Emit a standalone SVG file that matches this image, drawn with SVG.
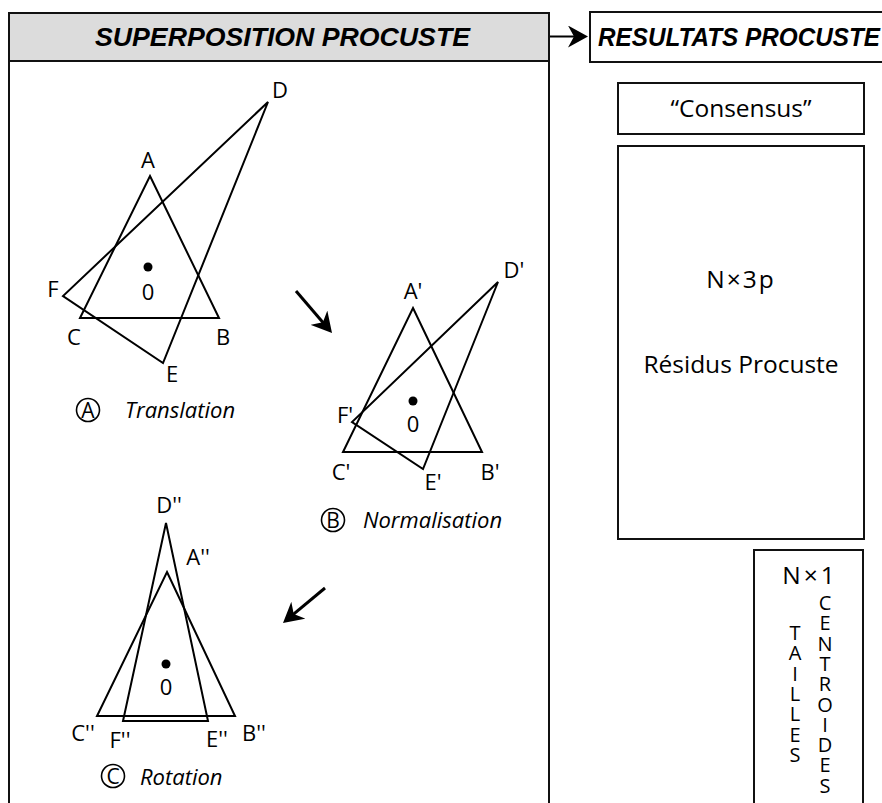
<svg xmlns="http://www.w3.org/2000/svg" width="882" height="803" viewBox="0 0 882 803">
<style>
.bd{fill:none;stroke:#111;stroke-width:2}
.tri{fill:none;stroke:#000;stroke-width:2;stroke-linejoin:miter}
.lbl{font-family:"Open Sans","Noto Sans",sans-serif;font-size:22px;fill:#000;text-anchor:middle}
.cap{font-family:"Open Sans","Noto Sans",sans-serif;font-size:22px;font-style:italic;fill:#000}
.cl{font-family:"Open Sans","Noto Sans",sans-serif;font-size:21px;fill:#000;text-anchor:middle}
.circ{fill:none;stroke:#000;stroke-width:1.6}
.hd{font-family:"Liberation Sans",Arial,sans-serif;font-size:26px;font-weight:bold;font-style:italic;fill:#000}
.rt{font-family:"Open Sans","Noto Sans",sans-serif;font-size:24.5px;fill:#000;text-anchor:middle}
.vt{font-family:"Open Sans","Noto Sans",sans-serif;font-size:20px;fill:#000;text-anchor:middle}
.conn{stroke:#000;fill:none}
</style>
<defs>
<marker id="ah" viewBox="0 0 20 22" refX="14" refY="11" markerWidth="20" markerHeight="22" markerUnits="userSpaceOnUse" orient="auto">
<path d="M0,0 L20,11 L0,22 L6,11 z" fill="#000"/>
</marker>
</defs>

<g id="panel-superposition">
<rect x="9" y="13" width="540" height="800" class="bd"/>
<rect x="9" y="13" width="540" height="48" fill="#dcdcdc" stroke="#111" stroke-width="2"/>
<text class="hd" x="95" y="46" textLength="375" lengthAdjust="spacingAndGlyphs">SUPERPOSITION PROCUSTE</text>
</g>

<g id="header-resultats">
<rect x="590" y="12" width="310" height="50" class="bd"/>
<text class="hd" x="598" y="46" textLength="282" lengthAdjust="spacingAndGlyphs">RESULTATS PROCUSTE</text>
</g>

<g id="step-a-translation">
<polygon class="tri" points="150,176 219,318 80,318"/>
<polygon class="tri" points="268,102 163,363 63,296"/>
<circle cx="148" cy="267" r="4.5" fill="#000"/>
<text class="lbl" x="148" y="300">0</text>
<text class="lbl" x="148" y="168">A</text>
<text class="lbl" x="223" y="345">B</text>
<text class="lbl" x="74" y="345">C</text>
<text class="lbl" x="280" y="98">D</text>
<text class="lbl" x="172" y="382">E</text>
<text class="lbl" x="53" y="297">F</text>
<circle class="circ" cx="88" cy="410" r="11.5"/>
<text class="cl" x="88" y="417.5">A</text>
<text class="cap" x="125" y="418">Translation</text>
</g>

<g id="step-b-normalisation">
<polygon class="tri" points="413,308 482,452 343,452"/>
<polygon class="tri" points="498,282 423,469 352,422"/>
<circle cx="413" cy="401" r="4.5" fill="#000"/>
<text class="lbl" x="413" y="432">0</text>
<text class="lbl" x="413" y="299">A'</text>
<text class="lbl" x="490" y="480">B'</text>
<text class="lbl" x="341" y="480">C'</text>
<text class="lbl" x="514" y="278">D'</text>
<text class="lbl" x="433" y="490">E'</text>
<text class="lbl" x="345" y="423">F'</text>
<circle class="circ" cx="333" cy="520" r="11.5"/>
<text class="cl" x="333" y="527.5">B</text>
<text class="cap" x="363" y="528">Normalisation</text>
</g>

<g id="step-c-rotation">
<polygon class="tri" points="167,572 235,716 97,716"/>
<polygon class="tri" points="166,523 208,721 123,721"/>
<circle cx="166" cy="664" r="4.5" fill="#000"/>
<text class="lbl" x="166" y="695">0</text>
<text class="lbl" x="198" y="565">A''</text>
<text class="lbl" x="254" y="741">B''</text>
<text class="lbl" x="83" y="741">C''</text>
<text class="lbl" x="169" y="513">D''</text>
<text class="lbl" x="217" y="747">E''</text>
<text class="lbl" x="120" y="748">F''</text>
<circle class="circ" cx="113" cy="776" r="11.5"/>
<text class="cl" x="113" y="783.5">C</text>
<text class="cap" x="140" y="785">Rotation</text>
</g>

<g id="box-consensus">
<rect x="618" y="83" width="246" height="51" class="bd"/>
<text class="rt" x="741" y="117">“Consensus”</text>
</g>

<g id="box-residus">
<rect x="618" y="146" width="246" height="393" class="bd"/>
<text class="rt" x="741" y="288" letter-spacing="2">N×3p</text>
<text class="rt" x="741" y="373">Résidus Procuste</text>
</g>

<g id="box-tailles">
<rect x="754" y="550" width="109" height="270" class="bd"/>
<text class="rt" x="810" y="584" font-size="25" letter-spacing="3">N×1</text>
<text class="vt"><tspan x="795" y="640">T</tspan><tspan x="795" y="660.3">A</tspan><tspan x="795" y="680.6">I</tspan><tspan x="795" y="700.9">L</tspan><tspan x="795" y="721.2">L</tspan><tspan x="795" y="741.5">E</tspan><tspan x="795" y="761.8">S</tspan></text>
<text class="vt"><tspan x="825" y="610">C</tspan><tspan x="825" y="630.3">E</tspan><tspan x="825" y="650.6">N</tspan><tspan x="825" y="670.9">T</tspan><tspan x="825" y="691.2">R</tspan><tspan x="825" y="711.5">O</tspan><tspan x="825" y="731.8">I</tspan><tspan x="825" y="752.1">D</tspan><tspan x="825" y="772.4">E</tspan><tspan x="825" y="792.7">S</tspan></text>
</g>

<g id="connectors">
<line class="conn" x1="550" y1="36.5" x2="582" y2="36.5" stroke-width="2" marker-end="url(#ah)"/>
<line class="conn" x1="296" y1="291" x2="328.1" y2="328.4" stroke-width="3" marker-end="url(#ah)"/>
<line class="conn" x1="325" y1="588" x2="287.6" y2="619.2" stroke-width="3" marker-end="url(#ah)"/>
</g>
</svg>
